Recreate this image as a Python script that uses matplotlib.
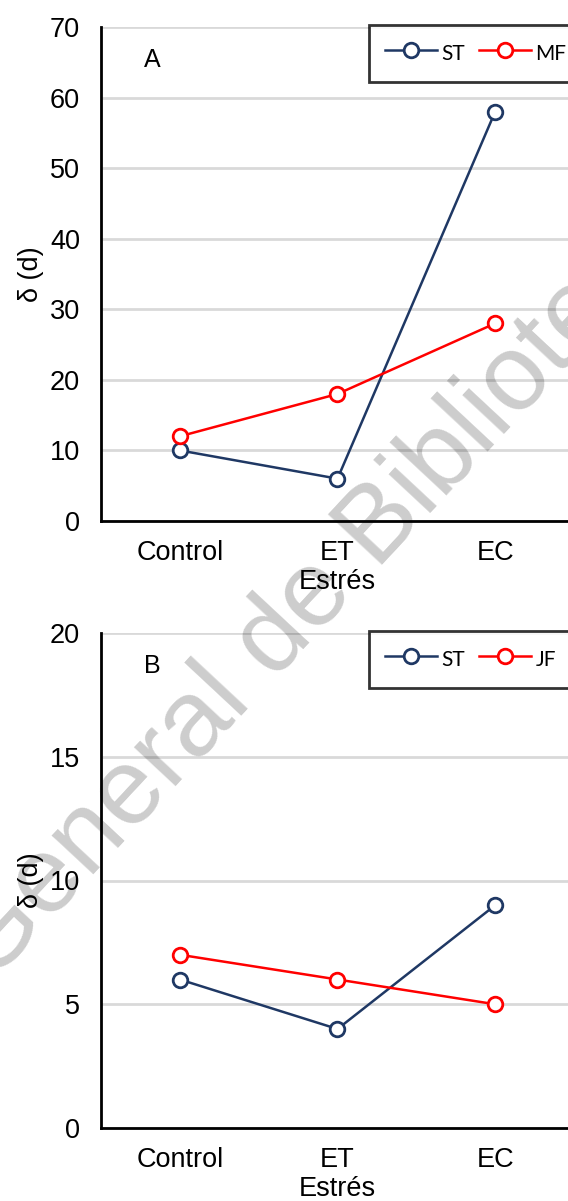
import matplotlib.pyplot as plt

# datos
estres = ["Control", "ET", "EC"]
st_a = [10, 6, 58]
mf_a = [12, 18, 28]
st_b = [6, 4, 9]
jf_b = [7, 6, 5]

AZUL = "#1f3864"
ROJO = "#ff0000"
W, H = 568, 1201

plt.rcParams["font.family"] = ["Liberation Sans", "DejaVu Sans"]

fig = plt.figure(figsize=(W / 100, H / 100), dpi=100)


def panel(top, bottom, serie1, serie2, nombre2, ymax, paso, letra):
    ax = fig.add_axes([101 / W, 1 - bottom / H, (574 - 101) / W, (bottom - top) / H])
    x = range(len(estres))
    ax.plot(x, serie1, color=AZUL, lw=1.8, marker="o", ms=10.5, mfc="white",
            mec=AZUL, mew=2, label="ST", zorder=3)
    ax.plot(x, serie2, color=ROJO, lw=1.8, marker="o", ms=10.5, mfc="white",
            mec=ROJO, mew=2, label=nombre2, zorder=3)
    ax.set_xlim(-0.5, 2.5)
    ax.set_ylim(0, ymax)
    ax.set_yticks(range(0, ymax + 1, paso))
    ax.set_xticks(list(x))
    ax.set_xticklabels(estres)
    ax.tick_params(length=0, labelsize=19.5, colors="black")
    ax.tick_params(axis="y", pad=15)
    ax.tick_params(axis="x", pad=14)
    ax.grid(axis="y", color="#d9d9d9", lw=2)
    ax.set_axisbelow(True)
    for s in ["top", "right"]:
        ax.spines[s].set_visible(False)
    for s in ["left", "bottom"]:
        ax.spines[s].set_linewidth(2)
        ax.spines[s].set_zorder(4)
    ax.set_xlabel("Estrés", fontsize=19.5, labelpad=2)
    ax.set_ylabel("δ (d)", fontsize=19.5, labelpad=4)
    ax.text(0.108, 0.933, letra, transform=ax.transAxes, fontsize=18,
            va="center", ha="center")
    leg = ax.legend(loc="upper left", bbox_to_anchor=((369 - 101) / (574 - 101), 1.004),
                    ncol=2, frameon=True, fancybox=False,
                    prop={"family": "Lato", "size": 15},
                    handlelength=2.5, handleheight=1.5, handletextpad=0.2,
                    columnspacing=0.7, borderpad=0.75, borderaxespad=0)
    leg.get_frame().set_edgecolor("black")
    leg.get_frame().set_linewidth(2)
    return ax


panel(27, 521, st_a, mf_a, "MF", 70, 10, "A")
panel(633, 1128, st_b, jf_b, "JF", 20, 5, "B")

# marca de agua
fig.text(-10 / W, 1 - 985 / H, "General de Biblioteca", fontsize=78, color="black",
         alpha=0.2, rotation=47, rotation_mode="anchor", ha="left", va="baseline",
         zorder=10)

fig.savefig("out.png", dpi=100)
